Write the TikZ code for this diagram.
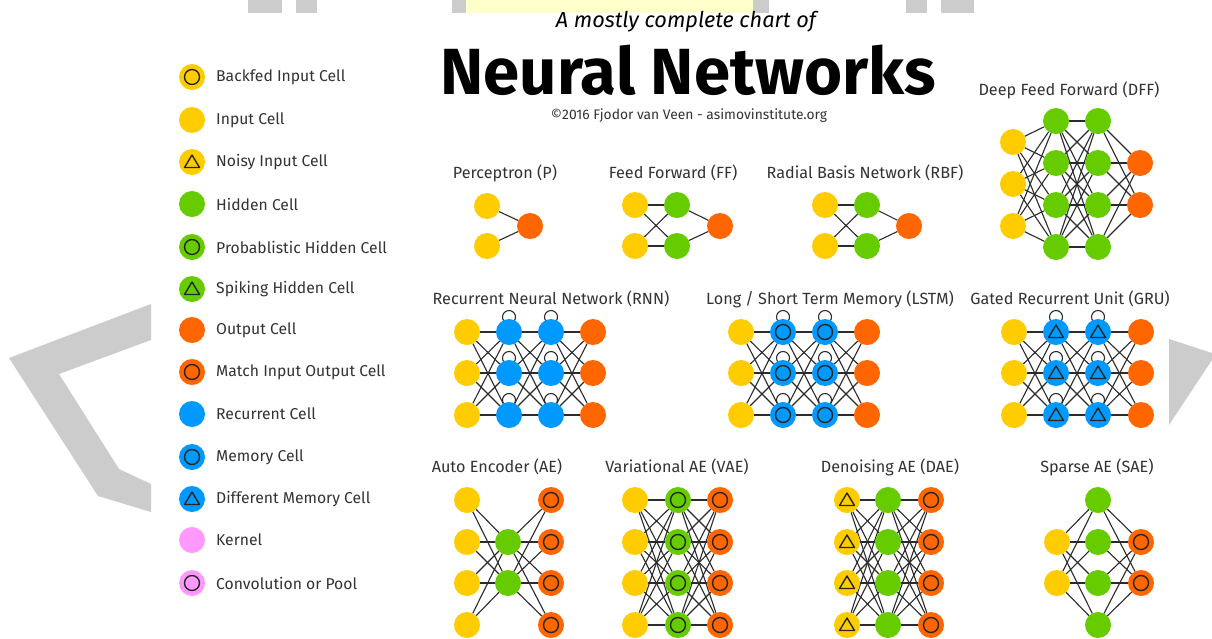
\documentclass[tikz,border=0pt]{standalone}
\usepackage{graphicx}
\usepackage{fontspec}
\setmainfont{Fira Sans}
\definecolor{cyel}{HTML}{FFCC00}
\definecolor{cgrn}{HTML}{66CC00}
\definecolor{corg}{HTML}{FF6600}
\definecolor{cblu}{HTML}{0099FF}
\definecolor{cpnk}{HTML}{FF99FF}
\definecolor{cgry}{HTML}{CCCCCC}
\definecolor{clyl}{HTML}{FFFFCC}
\definecolor{ctxt}{HTML}{333333}
\definecolor{cline}{HTML}{2B2B2B}
\pgfdeclarelayer{back}
\pgfdeclarelayer{edges}
\pgfsetlayers{back,edges,main}
\tikzset{
  cell/.style={circle, minimum size=26pt, inner sep=0pt, outer sep=0pt},
  inp/.style={cell, fill=cyel},
  hid/.style={cell, fill=cgrn},
  outc/.style={cell, fill=corg},
  rec/.style={cell, fill=cblu},
  ker/.style={cell, fill=cpnk},
  ringmark/.style={path picture={\draw[line width=1.4pt,black!85] (path picture bounding box.center) circle (7.5pt);}},
  trimark/.style={path picture={\draw[line width=1.4pt,black!85,line join=round]
     ([shift={(0pt,7pt)}]path picture bounding box.center) --
     ([shift={(-7.5pt,-5.5pt)}]path picture bounding box.center) --
     ([shift={(7.5pt,-5.5pt)}]path picture bounding box.center) -- cycle;}},
  net/.style={line width=1.1pt, draw=cline},
  lgtext/.style={anchor=west, inner sep=0pt, text=ctxt, font=\fontsize{15.7}{18}\selectfont},
  ttl/.style={inner sep=0pt, text=ctxt, font=\fontsize{16.2}{18}\selectfont},
  grayshape/.style={fill=cgry, draw=none}
}
\newcommand{\fullconn}[2]{\foreach \a in {#1} \foreach \b in {#2} \draw[net] (\a) -- (\b);}
\newcommand{\recloop}[1]{\foreach \a in {#1} \draw[net] ([yshift=2pt]\a.north) circle (6.5pt);}
\begin{document}
\begin{tikzpicture}[x=1pt,y=-1pt]
\useasboundingbox (0,0) rectangle (1212,638);
\begin{pgfonlayer}{back}
  \fill[white] (0,0) rectangle (1212,638);
  % top bars
  \fill[grayshape] (248,0) rectangle (282,13);
  \fill[grayshape] (296,0) rectangle (317,13);
  \fill[grayshape] (452,0) rectangle (769,13);
  \fill[clyl] (466,0) rectangle (753,13);
  \fill[grayshape] (906,0) rectangle (927,13);
  \fill[grayshape] (941,0) rectangle (974,13);
  % left chevron
  \fill[grayshape] (151,304) -- (9,358) -- (98,496) -- (151,512) -- (151,484) -- (119,469) -- (59,374) -- (151,340) -- cycle;
  % right triangle
  \fill[grayshape] (1169,339) -- (1212,353) -- (1212,360) -- (1169,425) -- cycle;
\end{pgfonlayer}

% titles
\node (title1) at (686,22) {\resizebox{260pt}{!}{\itshape A mostly complete chart of}};
\node (title2) at (688,70) {\resizebox{495pt}{!}{\bfseries Neural Networks}};
\node[text=ctxt] (title3) at (689,116) {\resizebox{276pt}{!}{©2016 Fjodor van Veen - asimovinstitute.org}};

% legend
\node[inp,ringmark] (L1) at (192,77) {};   \node[lgtext] (T1) at (216,77) {Backfed Input Cell};
\node[inp] (L2) at (192,120) {};           \node[lgtext] (T2) at (216,120) {Input Cell};
\node[inp,trimark] (L3) at (192,162) {};   \node[lgtext] (T3) at (216,162) {Noisy Input Cell};
\node[hid] (L4) at (192,204) {};           \node[lgtext] (T4) at (216,204) {Hidden Cell};
\node[hid,ringmark] (L5) at (192,247) {};  \node[lgtext] (T5) at (216,247) {Probablistic Hidden Cell};
\node[hid,trimark] (L6) at (192,289) {};   \node[lgtext] (T6) at (216,289) {Spiking Hidden Cell};
\node[outc] (L7) at (192,330) {};          \node[lgtext] (T7) at (216,330) {Output Cell};
\node[outc,ringmark] (L8) at (192,372) {}; \node[lgtext] (T8) at (216,372) {Match Input Output Cell};
\node[rec] (L9) at (192,414) {};           \node[lgtext] (T9) at (216,414) {Recurrent Cell};
\node[rec,ringmark] (L10) at (192,457) {}; \node[lgtext] (T10) at (216,457) {Memory Cell};
\node[rec,trimark] (L11) at (192,499) {};  \node[lgtext] (T11) at (216,499) {Different Memory Cell};
\node[ker] (L12) at (192,540) {};          \node[lgtext] (T12) at (216,540) {Kernel};
\node[ker,ringmark] (L13) at (192,583) {}; \node[lgtext] (T13) at (216,583) {Convolution or Pool};

% Perceptron
\node[ttl] (tP) at (505,173) {Perceptron (P)};
\node[inp] (pi1) at (487,206) {};
\node[inp] (pi2) at (487,246) {};
\node[outc] (po) at (530,226) {};
% FF
\node[ttl] (tFF) at (673,173) {Feed Forward (FF)};
\node[inp] (fi1) at (635,205) {};
\node[inp] (fi2) at (635,246) {};
\node[hid] (fh1) at (677,205) {};
\node[hid] (fh2) at (677,246) {};
\node[outc] (fo) at (720,226) {};
% RBF
\node[ttl] (tRBF) at (865,173) {Radial Basis Network (RBF)};
\node[inp] (bi1) at (825,205) {};
\node[inp] (bi2) at (825,246) {};
\node[hid] (bh1) at (867,205) {};
\node[hid] (bh2) at (867,246) {};
\node[outc] (bo) at (909,226) {};
% DFF
\node[ttl] (tDFF) at (1069,90) {Deep Feed Forward (DFF)};
\foreach \i/\y in {1/142,2/184,3/226} \node[inp] (di\i) at (1013,\y) {};
\foreach \i/\y in {1/121,2/163,3/205,4/247} {
  \node[hid] (da\i) at (1056,\y) {};
  \node[hid] (db\i) at (1098,\y) {};
}
\node[outc] (do1) at (1140,163) {};
\node[outc] (do2) at (1140,205) {};
% RNN
\node[ttl] (tRNN) at (551,299) {Recurrent Neural Network (RNN)};
\foreach \i/\y in {1/332,2/373,3/415} {
  \node[inp] (ri\i) at (467,\y) {};
  \node[rec] (ra\i) at (509,\y) {};
  \node[rec] (rb\i) at (551,\y) {};
  \node[outc] (ro\i) at (593,\y) {};
}
% LSTM
\node[ttl] (tLSTM) at (830,299) {Long / Short Term Memory (LSTM)};
\foreach \i/\y in {1/332,2/373,3/415} {
  \node[inp] (li\i) at (741,\y) {};
  \node[rec,ringmark] (la\i) at (783,\y) {};
  \node[rec,ringmark] (lb\i) at (825,\y) {};
  \node[outc] (lo\i) at (867,\y) {};
}
% GRU
\node[ttl] (tGRU) at (1070,299) {Gated Recurrent Unit (GRU)};
\foreach \i/\y in {1/332,2/373,3/415} {
  \node[inp] (gi\i) at (1014,\y) {};
  \node[rec,trimark] (ga\i) at (1056,\y) {};
  \node[rec,trimark] (gb\i) at (1098,\y) {};
  \node[outc] (go\i) at (1141,\y) {};
}
% AE
\node[ttl] (tAE) at (497,467) {Auto Encoder (AE)};
\foreach \i/\y in {1/500,2/542,3/583,4/625} {
  \node[inp] (ai\i) at (467,\y) {};
  \node[outc,ringmark] (ao\i) at (551,\y) {};
}
\node[hid] (ah1) at (508,542) {};
\node[hid] (ah2) at (508,583) {};
% VAE
\node[ttl] (tVAE) at (677,467) {Variational AE (VAE)};
\foreach \i/\y in {1/500,2/542,3/583,4/625} {
  \node[inp] (vi\i) at (635,\y) {};
  \node[hid,ringmark] (vh\i) at (678,\y) {};
  \node[outc,ringmark] (vo\i) at (720,\y) {};
}
% DAE
\node[ttl] (tDAE) at (890,467) {Denoising AE (DAE)};
\foreach \i/\y in {1/500,2/542,3/583,4/625} {
  \node[inp,trimark] (ei\i) at (847,\y) {};
  \node[hid] (eh\i) at (888,\y) {};
  \node[outc,ringmark] (eo\i) at (931,\y) {};
}
% SAE
\node[ttl] (tSAE) at (1097,467) {Sparse AE (SAE)};
\node[inp] (si1) at (1057,542) {};
\node[inp] (si2) at (1057,583) {};
\foreach \i/\y in {1/500,2/542,3/583,4/625} \node[hid] (sh\i) at (1098,\y) {};
\node[outc,ringmark] (so1) at (1141,542) {};
\node[outc,ringmark] (so2) at (1141,583) {};

\begin{pgfonlayer}{edges}
  \fullconn{pi1,pi2}{po}
  \fullconn{fi1,fi2}{fh1,fh2}
  \fullconn{fh1,fh2}{fo}
  \fullconn{bi1,bi2}{bh1,bh2}
  \fullconn{bh1,bh2}{bo}
  \fullconn{di1,di2,di3}{da1,da2,da3,da4}
  \fullconn{da1,da2,da3,da4}{db1,db2,db3,db4}
  \fullconn{db1,db2,db3,db4}{do1,do2}
  \fullconn{ri1,ri2,ri3}{ra1,ra2,ra3}
  \fullconn{ra1,ra2,ra3}{rb1,rb2,rb3}
  \fullconn{rb1,rb2,rb3}{ro1,ro2,ro3}
  \recloop{ra1,ra2,ra3,rb1,rb2,rb3}
  \fullconn{li1,li2,li3}{la1,la2,la3}
  \fullconn{la1,la2,la3}{lb1,lb2,lb3}
  \fullconn{lb1,lb2,lb3}{lo1,lo2,lo3}
  \recloop{la1,la2,la3,lb1,lb2,lb3}
  \fullconn{gi1,gi2,gi3}{ga1,ga2,ga3}
  \fullconn{ga1,ga2,ga3}{gb1,gb2,gb3}
  \fullconn{gb1,gb2,gb3}{go1,go2,go3}
  \recloop{ga1,ga2,ga3,gb1,gb2,gb3}
  \fullconn{ai1,ai2,ai3,ai4}{ah1,ah2}
  \fullconn{ah1,ah2}{ao1,ao2,ao3,ao4}
  \fullconn{vi1,vi2,vi3,vi4}{vh1,vh2,vh3,vh4}
  \fullconn{vh1,vh2,vh3,vh4}{vo1,vo2,vo3,vo4}
  \fullconn{ei1,ei2,ei3,ei4}{eh1,eh2,eh3,eh4}
  \fullconn{eh1,eh2,eh3,eh4}{eo1,eo2,eo3,eo4}
  \fullconn{si1,si2}{sh1,sh2,sh3,sh4}
  \fullconn{sh1,sh2,sh3,sh4}{so1,so2}
\end{pgfonlayer}
\end{tikzpicture}
\end{document}
